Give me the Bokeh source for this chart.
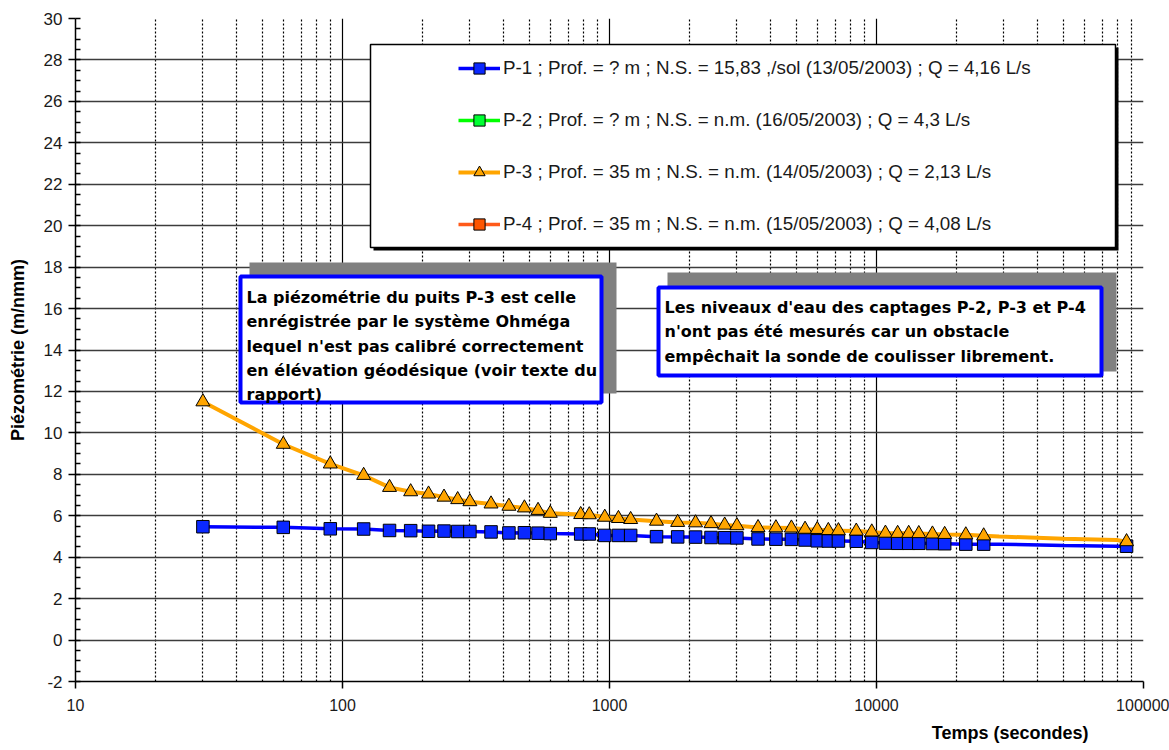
import math
from bokeh.plotting import figure
from bokeh.models import (Range1d, FixedTicker, BoxAnnotation, Label, Legend,
                          LegendItem, PrintfTickFormatter, Title)
from bokeh.embed import file_html
from bokeh.resources import INLINE

# ---------------- data ----------------
times = [30, 60, 90, 120, 150, 180, 210, 240, 270, 300, 360, 420, 480, 540, 600,
         780, 840, 960, 1080, 1200, 1500, 1800, 2100, 2400, 2700, 3000, 3600, 4200,
         4800, 5400, 6000, 6600, 7200, 8400, 9600, 10800, 12000, 13200, 14400,
         16200, 18000, 21600, 25200, 86400]
p1_level = [5.47, 5.44, 5.37, 5.36, 5.29, 5.28, 5.25, 5.26, 5.24, 5.24, 5.22, 5.17,
            5.18, 5.16, 5.14, 5.12, 5.12, 5.05, 5.05, 5.05, 4.99, 4.98, 4.97, 4.95,
            4.94, 4.93, 4.88, 4.87, 4.86, 4.83, 4.79, 4.78, 4.78, 4.77, 4.71, 4.68,
            4.67, 4.67, 4.67, 4.66, 4.65, 4.63, 4.63, 4.53]
p3_level = [11.5, 9.45, 8.5, 7.95, 7.37, 7.16, 7.05, 6.9, 6.78, 6.68, 6.57, 6.46,
            6.38, 6.26, 6.12, 6.06, 6.05, 5.93, 5.87, 5.82, 5.74, 5.68, 5.66, 5.62,
            5.55, 5.52, 5.43, 5.42, 5.41, 5.35, 5.34, 5.29, 5.28, 5.26, 5.22, 5.16,
            5.15, 5.15, 5.14, 5.12, 5.1, 5.08, 5.03, 4.75]
# P-2 and P-4: not measured (n.m.)
p2_level = [float("nan")] * len(times)
p4_level = [float("nan")] * len(times)
# points of the curves drawn without a marker
hidden_times = [28800, 50400, 79200]
p1_hidden = [4.63, 4.56, 4.53]
p3_hidden = [5.0, 4.89, 4.83]

series_labels = [
    "P-1 ; Prof. = ? m ; N.S. = 15,83 ,/sol (13/05/2003) ; Q = 4,16 L/s",
    "P-2 ; Prof. = ? m ; N.S. = n.m. (16/05/2003) ; Q = 4,3 L/s",
    "P-3 ; Prof. = 35 m ; N.S. = n.m. (14/05/2003) ; Q = 2,13 L/s",
    "P-4 ; Prof. = 35 m ; N.S. = n.m. (15/05/2003) ; Q = 4,08 L/s",
]
x_ticks = [10, 100, 1000, 10000, 100000]
x_tick_labels = ["10", "100", "1000", "10000", "100000"]
y_ticks = list(range(-2, 31, 2))
y_tick_labels = [str(v) for v in y_ticks]
x_title = "Temps (secondes)"
y_title = "Piézométrie (m/nmm)"
note1 = ["La piézométrie du puits P-3 est celle",
         "enrégistrée par le système Ohméga",
         "lequel n'est pas calibré correctement",
         "en élévation  géodésique (voir texte du",
         "rapport)"]
note2 = ["Les niveaux d'eau des captages P-2, P-3 et P-4",
         "n'ont pas été mesurés car un obstacle",
         "empêchait la sonde de coulisser librement."]

# ---------------- layout helpers ----------------
W, H = 1169, 750
FL, FR, FT, FB = 75, 1143, 18, 681
X0, X1, Y0, Y1 = 10, 100000, -2, 30


def xd(px):
    lo, hi = math.log10(X0), math.log10(X1)
    return 10 ** (lo + (px - FL) / (FR - FL) * (hi - lo))


def yd(py):
    return Y1 - (py - FT) / (FB - FT) * (Y1 - Y0)


p = figure(width=W, height=H, x_axis_type="log",
           x_range=Range1d(X0, X1), y_range=Range1d(Y0, Y1),
           output_backend="svg", toolbar_location=None,
           min_border_left=FL, min_border_right=W - FR,
           min_border_top=FT, min_border_bottom=H - FB)
p.outline_line_color = None
p.background_fill_color = "white"
p.border_fill_color = "white"

# ticks / grid
x_minor = [m * 10 ** k for k in range(1, 5) for m in range(2, 10)]
xt = FixedTicker(ticks=x_ticks, minor_ticks=x_minor)
p.xaxis.ticker = xt
p.xgrid.ticker = xt
p.xaxis.formatter = PrintfTickFormatter(format="%d")
p.xaxis.major_label_overrides = {t: s for t, s in zip(x_ticks, x_tick_labels)}
y_minor = [v / 2 for v in range(2 * Y0, 2 * Y1 + 1)]
yt = FixedTicker(ticks=y_ticks, minor_ticks=y_minor)
p.yaxis.ticker = yt
p.yaxis.major_label_overrides = {t: s for t, s in zip(y_ticks, y_tick_labels)}
p.ygrid.ticker = FixedTicker(ticks=y_ticks)

p.xgrid.grid_line_color = "black"
p.xgrid.grid_line_width = 1.2
p.xgrid.minor_grid_line_color = "black"
p.xgrid.minor_grid_line_width = 1.2
p.xgrid.minor_grid_line_dash = "2 2"
p.ygrid.grid_line_color = "#3c3c3c"
p.ygrid.grid_line_width = 1.5

for ax in (p.xaxis, p.yaxis):
    ax.axis_line_color = "black"
    ax.axis_line_width = 1.5
    ax.major_tick_line_color = "black"
    ax.major_tick_line_width = 1.5
    ax.minor_tick_line_color = "black"
    ax.minor_tick_line_width = 1.5
    ax.major_tick_in = 0
    ax.major_tick_out = 7
    ax.major_label_text_font = "Liberation Sans"
    ax.major_label_text_color = "#1a1a1a"

p.xaxis.minor_tick_in = 0
p.xaxis.minor_tick_out = 0
p.xaxis.major_label_text_font_size = "16px"
p.xaxis.major_label_standoff = 10

p.yaxis.minor_tick_in = 5
p.yaxis.minor_tick_out = 0
p.yaxis.major_label_text_font_size = "17px"
p.yaxis.major_label_standoff = 6
p.yaxis.axis_label = y_title
p.yaxis.axis_label_text_font = "Liberation Sans"
p.yaxis.axis_label_text_font_style = "bold"
p.yaxis.axis_label_text_font_size = "18px"
p.yaxis.axis_label_text_color = "black"
p.yaxis.axis_label_standoff = 13

# x axis title, right of centre as in the original
p.add_layout(Title(text=x_title, align="right", offset=FR - 1088, standoff=15,
                   text_font="Liberation Sans", text_font_style="bold",
                   text_font_size="18px", text_color="black"), "below")

# ---------------- data glyphs ----------------
line_t1 = sorted(zip(times + hidden_times, p1_level + p1_hidden))
line_t3 = sorted(zip(times + hidden_times, p3_level + p3_hidden))

r1l = p.line([a for a, _ in line_t1], [b for _, b in line_t1],
             line_color="#0000FF", line_width=3.5)
r1m = p.scatter(times, p1_level, marker="square", size=12.5,
                fill_color="#0A28FF", line_color="black", line_width=1)
r3l = p.line([a for a, _ in line_t3], [b for _, b in line_t3],
             line_color="#FFA500", line_width=4)
r3m = p.scatter(times, p3_level, marker="triangle", size=14,
                fill_color="#FFA500", line_color="black", line_width=1)
# series without measurements (legend only)
r2l = p.line(times, p2_level, line_color="#00FF00", line_width=3.5)
r2m = p.scatter(times, p2_level, marker="square", size=12, fill_color="#00FF33",
                line_color="black", line_width=1)
r4l = p.line(times, p4_level, line_color="#FF5A1A", line_width=3.5)
r4m = p.scatter(times, p4_level, marker="square", size=12, fill_color="#FF5500",
                line_color="black", line_width=1)

# ---------------- legend box ----------------
p.add_layout(BoxAnnotation(left=xd(373), right=xd(1118), top=yd(47), bottom=yd(250),
                           fill_color="black", fill_alpha=1, line_alpha=0))
p.add_layout(BoxAnnotation(left=xd(370), right=xd(1115), top=yd(44), bottom=yd(247),
                           fill_color="white", fill_alpha=1, line_color="black",
                           line_alpha=1, line_width=1.5))

# ---------------- note boxes ----------------
p.add_layout(BoxAnnotation(left=xd(249), right=xd(616), top=yd(262), bottom=yd(393),
                           fill_color="#808080", fill_alpha=1, line_alpha=0))
p.add_layout(BoxAnnotation(left=xd(240), right=xd(601), top=yd(276), bottom=yd(402),
                           fill_color="white", fill_alpha=1, line_color="#0000FF",
                           line_alpha=1, line_width=4))
p.add_layout(BoxAnnotation(left=xd(667), right=xd(1116), top=yd(272), bottom=yd(371),
                           fill_color="#808080", fill_alpha=1, line_alpha=0))
p.add_layout(BoxAnnotation(left=xd(658), right=xd(1101), top=yd(287), bottom=yd(375),
                           fill_color="white", fill_alpha=1, line_color="#0000FF",
                           line_alpha=1, line_width=4))

for i, s in enumerate(note1):
    p.add_layout(Label(x=xd(246), y=yd(297 + 24.3 * i), text=s,
                       text_font="DejaVu Sans", text_font_style="bold",
                       text_font_size="16px", text_color="black",
                       text_baseline="alphabetic"))
for i, s in enumerate(note2):
    p.add_layout(Label(x=xd(664), y=yd(307 + 24.3 * i), text=s,
                       text_font="DejaVu Sans", text_font_style="bold",
                       text_font_size="16px", text_color="black",
                       text_baseline="alphabetic"))

legend = Legend(items=[
    LegendItem(label=series_labels[0], renderers=[r1l, r1m]),
    LegendItem(label=series_labels[1], renderers=[r2l, r2m]),
    LegendItem(label=series_labels[2], renderers=[r3l, r3m]),
    LegendItem(label=series_labels[3], renderers=[r4l, r4m]),
], location=(458 - FL, FB - 238), padding=0, margin=0, spacing=24,
    glyph_width=42, glyph_height=28, label_height=28, label_standoff=3,
    label_text_font="Liberation Sans", label_text_font_size="18.8px",
    label_text_color="#1a1a1a", border_line_alpha=0, background_fill_alpha=0)
p.add_layout(legend)

open("out.html", "w").write(file_html(p, INLINE))
